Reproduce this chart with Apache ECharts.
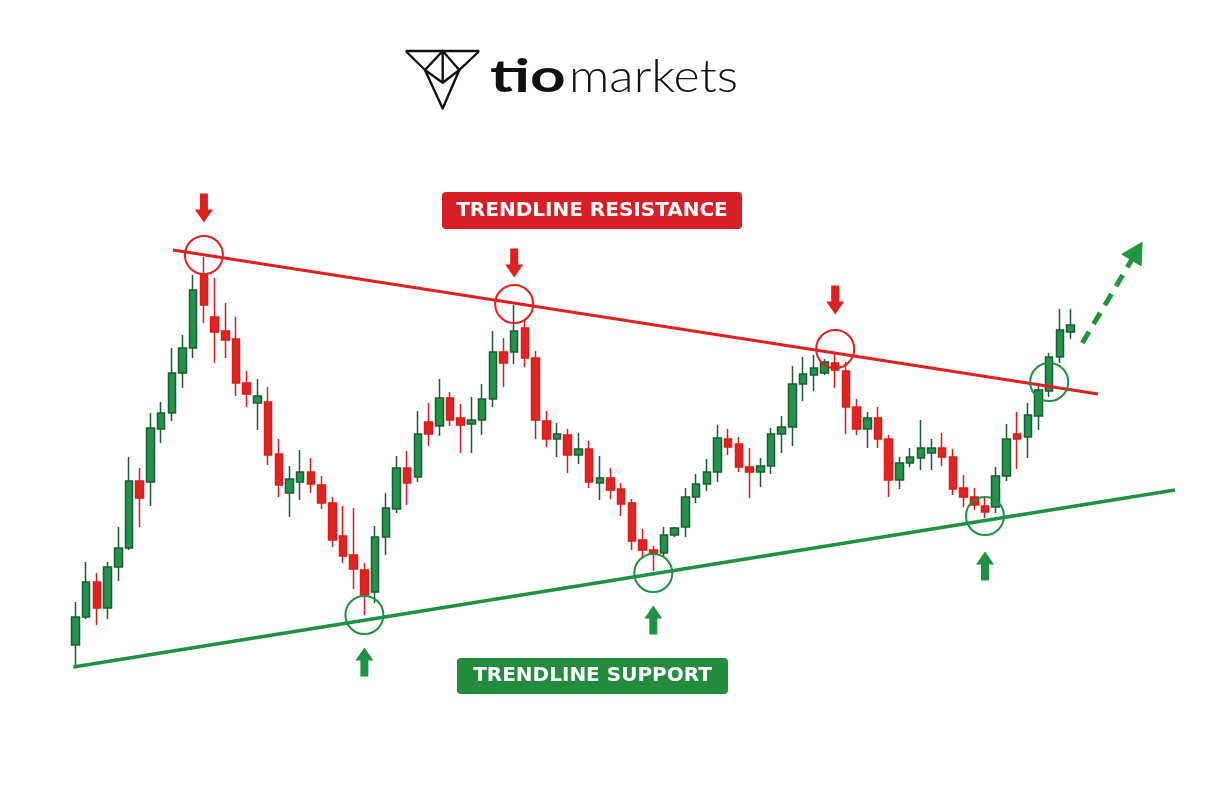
<!DOCTYPE html>
<html>
<head>
<meta charset="utf-8">
<script src="https://cdn.jsdelivr.net/npm/echarts@6/dist/echarts.min.js"></script>
<style>
  html, body { margin: 0; padding: 0; background: #fff; }
  #chart { width: 1228px; height: 790px; }
</style>
</head>
<body>
<div id="chart"></div>
<script>
// candles (price units, bar index = position in list)
const opens  = [55, 83, 118, 92, 133, 152, 219, 218, 271, 287, 327, 352, 425, 383, 369, 361, 317, 297, 298, 246,
                207, 218, 228, 215, 197, 164, 145, 130, 108, 163, 191, 232, 223, 278, 274, 302, 282, 276, 280, 301,
                348, 348, 372, 342, 279, 261, 265, 245, 251, 217, 222, 211, 197, 160, 150, 147, 165, 173, 203, 216,
                228, 261, 256, 233, 228, 234, 266, 273, 316, 325, 327, 337, 329, 293, 271, 282, 261, 220, 237, 242,
                247, 252, 243, 212, 203, 194, 193, 224, 266, 263, 284, 309, 343, 368];
const closes = [83, 118, 92, 133, 152, 219, 202, 272, 287, 327, 352, 410, 395, 368, 360, 317, 306, 304, 245, 215,
                221, 228, 216, 197, 160, 144, 131, 105, 163, 192, 232, 217, 266, 266, 302, 280, 275, 280, 301, 348,
                337, 369, 342, 280, 261, 266, 245, 251, 218, 222, 210, 196, 159, 150, 147, 165, 172, 203, 216, 228,
                262, 253, 233, 228, 234, 266, 273, 316, 326, 332, 338, 330, 293, 271, 282, 261, 220, 237, 243, 252,
                252, 243, 211, 203, 195, 188, 224, 261, 261, 285, 310, 343, 370, 375];
const lows   = [33, 81, 75, 81, 119, 150, 173, 194, 257, 279, 312, 342, 377, 337, 342, 304, 293, 270, 235, 203,
                183, 200, 207, 191, 153, 137, 111, 85, 97, 145, 187, 195, 218, 254, 264, 274, 247, 247, 265, 293,
                313, 336, 333, 261, 253, 243, 227, 236, 212, 200, 201, 184, 150, 142, 129, 143, 163, 163, 197, 209,
                218, 245, 228, 202, 213, 226, 247, 254, 299, 309, 325, 312, 266, 265, 252, 252, 203, 211, 233, 230,
                230, 234, 205, 193, 190, 182, 187, 219, 231, 242, 270, 303, 337, 361];
const highs  = [98, 138, 127, 138, 173, 243, 232, 287, 298, 352, 365, 425, 443, 422, 397, 383, 329, 321, 313, 261,
                234, 250, 242, 224, 203, 194, 192, 137, 174, 207, 244, 249, 289, 297, 321, 308, 296, 303, 316, 369,
                362, 395, 381, 349, 289, 277, 271, 267, 259, 244, 232, 217, 201, 171, 154, 173, 173, 212, 226, 241,
                275, 271, 263, 252, 242, 272, 284, 334, 343, 345, 341, 347, 338, 301, 288, 293, 265, 243, 252, 280,
                261, 267, 251, 225, 212, 202, 233, 276, 288, 297, 317, 347, 391, 391];

// trendlines: [bar index, price] at both ends
const resistanceLine = [[9.11, 450], [95.56, 306]];
const supportLine    = [[-0.2, 33], [102.76, 210]];
const breakoutArrow  = [[94.1, 357], [99.2, 449]];

// touch points
const peakIdx    = [12, 41, 71];
const peakCircle = [445, 396, 351];
const peakArrow  = [492, 437, 400];
const troughIdx    = [27, 54, 85];
const troughCircle = [85, 127, 184];
const troughArrow  = [38, 80, 134];
const breakoutPoint = [91, 318];

const RED = '#e0201f';
const GREEN = '#1f9142';
const ARROW_UP = 'path://M9,0 L18,13 L13,13 L13,29 L5,29 L5,13 L0,13 Z';
const ARROW_DOWN = 'path://M5,0 L13,0 L13,16 L18,16 L9,29 L0,16 L5,16 Z';

const candles = opens.map((o, i) => [i, o, closes[i], lows[i], highs[i]]);

const ring = (coord, color) => ({
  coord: coord,
  symbol: 'circle',
  symbolSize: 38,
  itemStyle: { color: 'rgba(0,0,0,0)', borderColor: color, borderWidth: 2 }
});
const arrow = (coord, path, color) => ({
  coord: coord,
  symbol: path,
  symbolSize: [18, 29],
  itemStyle: { color: color }
});

const points = [];
peakIdx.forEach((x, i) => {
  points.push(ring([x, peakCircle[i]], RED));
  points.push(arrow([x, peakArrow[i]], ARROW_DOWN, RED));
});
troughIdx.forEach((x, i) => {
  points.push(ring([x, troughCircle[i]], GREEN));
  points.push(arrow([x, troughArrow[i]], ARROW_UP, GREEN));
});
points.push(ring(breakoutPoint, GREEN));

const lineItem = (pts, color, width) => [
  { coord: pts[0], lineStyle: { color: color, width: width, type: 'solid' } },
  { coord: pts[1] }
];

const chart = echarts.init(document.getElementById('chart'), null, { renderer: 'canvas' });

const logoStroke = { stroke: '#111', lineWidth: 2.4, fill: null, lineJoin: 'round', lineCap: 'round' };

const option = {
  animation: false,
  backgroundColor: '#ffffff',
  grid: { left: 0, right: 0, top: 0, bottom: 0 },
  xAxis: {
    type: 'value', min: -7.056, max: 107.71,
    show: false, splitLine: { show: false }
  },
  yAxis: {
    type: 'value', min: -90, max: 700,
    show: false, splitLine: { show: false }
  },
  series: [{
    type: 'candlestick',
    data: candles,
    encode: { x: 0, y: [1, 2, 3, 4] },
    barWidth: 8,
    clip: false,
    silent: true,
    itemStyle: {
      color: '#21944a',
      color0: '#e3231f',
      borderColor: '#1d5a36',
      borderColor0: '#d81d1d',
      borderWidth: 1.5
    },
    markLine: {
      silent: true,
      symbol: 'none',
      label: { show: false },
      emphasis: { disabled: true },
      data: [
        lineItem(resistanceLine, RED, 3),
        lineItem(supportLine, GREEN, 3.5),
        [
          { coord: breakoutArrow[0], symbol: 'none',
            lineStyle: { color: '#22963f', width: 5, type: [13, 9] } },
          { coord: breakoutArrow[1], symbol: 'triangle', symbolSize: [24, 22] }
        ]
      ]
    },
    markPoint: {
      silent: true,
      label: { show: false },
      data: points
    }
  }],
  graphic: [
    // logo
    { type: 'polyline', shape: { points: [[406.7, 51], [478.3, 51]] }, style: logoStroke },
    { type: 'polyline', shape: { points: [[406.7, 52], [425, 70], [442.7, 108.5], [459.3, 70], [478.3, 52]] }, style: logoStroke },
    { type: 'polyline', shape: { points: [[442.7, 51], [425, 70], [442.7, 82.7], [459.3, 70], [442.7, 51], [442.7, 82.7]] }, style: logoStroke },
    { type: 'text', x: 490, y: 100, scaleX: 1.35,
      style: { text: 'tio', x: 0, y: 0, font: 'bold 46px Lato', fill: '#111', verticalAlign: 'bottom' } },
    { type: 'text', x: 569, y: 100, scaleX: 1.09,
      style: { text: 'markets', x: 0, y: 0, font: '300 46px Lato', fill: '#111', verticalAlign: 'bottom' } },
    // labels
    {
      type: 'rect',
      shape: { x: 442, y: 192, width: 300, height: 37, r: 4 },
      style: { fill: '#d91f26' },
      textContent: { style: { text: 'TRENDLINE RESISTANCE', fill: '#fff', font: 'bold 20px "DejaVu Sans"' } },
      textConfig: { position: 'inside' }
    },
    {
      type: 'rect',
      shape: { x: 457, y: 658, width: 271, height: 36, r: 4 },
      style: { fill: '#228c3c' },
      textContent: { style: { text: 'TRENDLINE SUPPORT', fill: '#fff', font: 'bold 20px "DejaVu Sans"' } },
      textConfig: { position: 'inside' }
    }
  ]
};

chart.setOption(option);
</script>
</body>
</html>
